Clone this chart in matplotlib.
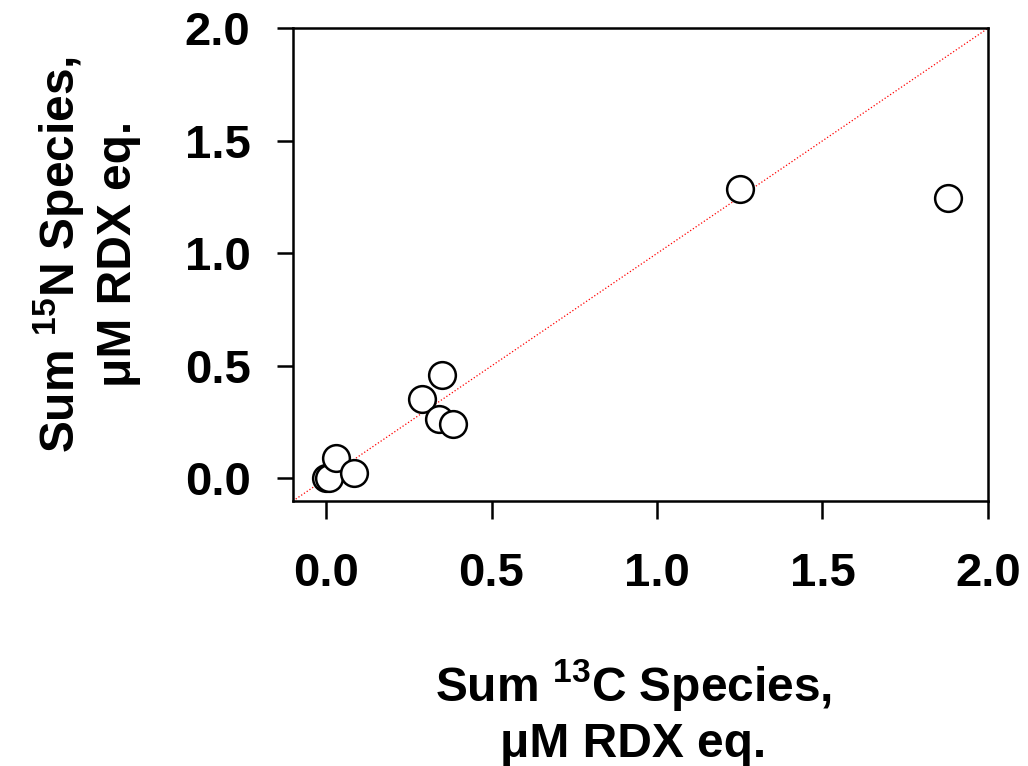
import matplotlib
matplotlib.use("Agg")
import matplotlib.pyplot as plt

plt.rcParams["font.family"] = ["Liberation Sans", "DejaVu Sans"]
plt.rcParams["font.weight"] = "bold"
plt.rcParams["mathtext.fontset"] = "custom"
plt.rcParams["mathtext.rm"] = "Liberation Sans:bold"
plt.rcParams["mathtext.bf"] = "Liberation Sans:bold"
plt.rcParams["mathtext.it"] = "Liberation Sans:bold"

# Sum 13C species vs sum 15N species (uM RDX eq.)
sum_13c = [0.00, 0.01, 0.03, 0.085, 0.29, 0.35, 0.34, 0.385, 1.25, 1.88]
sum_15n = [0.00, 0.00, 0.09, 0.025, 0.355, 0.46, 0.265, 0.24, 1.285, 1.245]

ticks = [0.0, 0.5, 1.0, 1.5, 2.0]
lims = (-0.1, 2.0)

fig = plt.figure(figsize=(10.28, 7.66), dpi=100)
ax = fig.add_axes([0.285, 0.346, 0.676, 0.617])

# 1:1 line
ax.plot(lims, lims, color="red", linestyle=":", linewidth=0.9, zorder=1)
ax.scatter(sum_13c, sum_15n, s=370, facecolors="white", edgecolors="black",
           linewidths=1.8, zorder=3)

ax.set_xlim(lims)
ax.set_ylim(lims)
ax.set_xticks(ticks)
ax.set_yticks(ticks)
ax.set_xticklabels([f"{t:.1f}" for t in ticks])
ax.set_yticklabels([f"{t:.1f}" for t in ticks])

for s in ax.spines.values():
    s.set_linewidth(1.8)
ax.tick_params(axis="x", direction="out", length=13, width=1.8, pad=24, labelsize=34)
ax.tick_params(axis="y", direction="out", length=11.5, width=1.8, pad=19, labelsize=34)

fig.text(0.616, 0.071, "Sum $^{13}$C Species,\n\u03bcM RDX eq.", ha="center", va="center",
         fontsize=34.5, fontweight="bold", linespacing=1.26)
fig.text(0.084, 0.668, "Sum $^{15}$N Species,\n\u03bcM RDX eq.", ha="center", va="center",
         rotation=90, fontsize=34.5, fontweight="bold", linespacing=1.26)

fig.savefig("out.png", dpi=100)
